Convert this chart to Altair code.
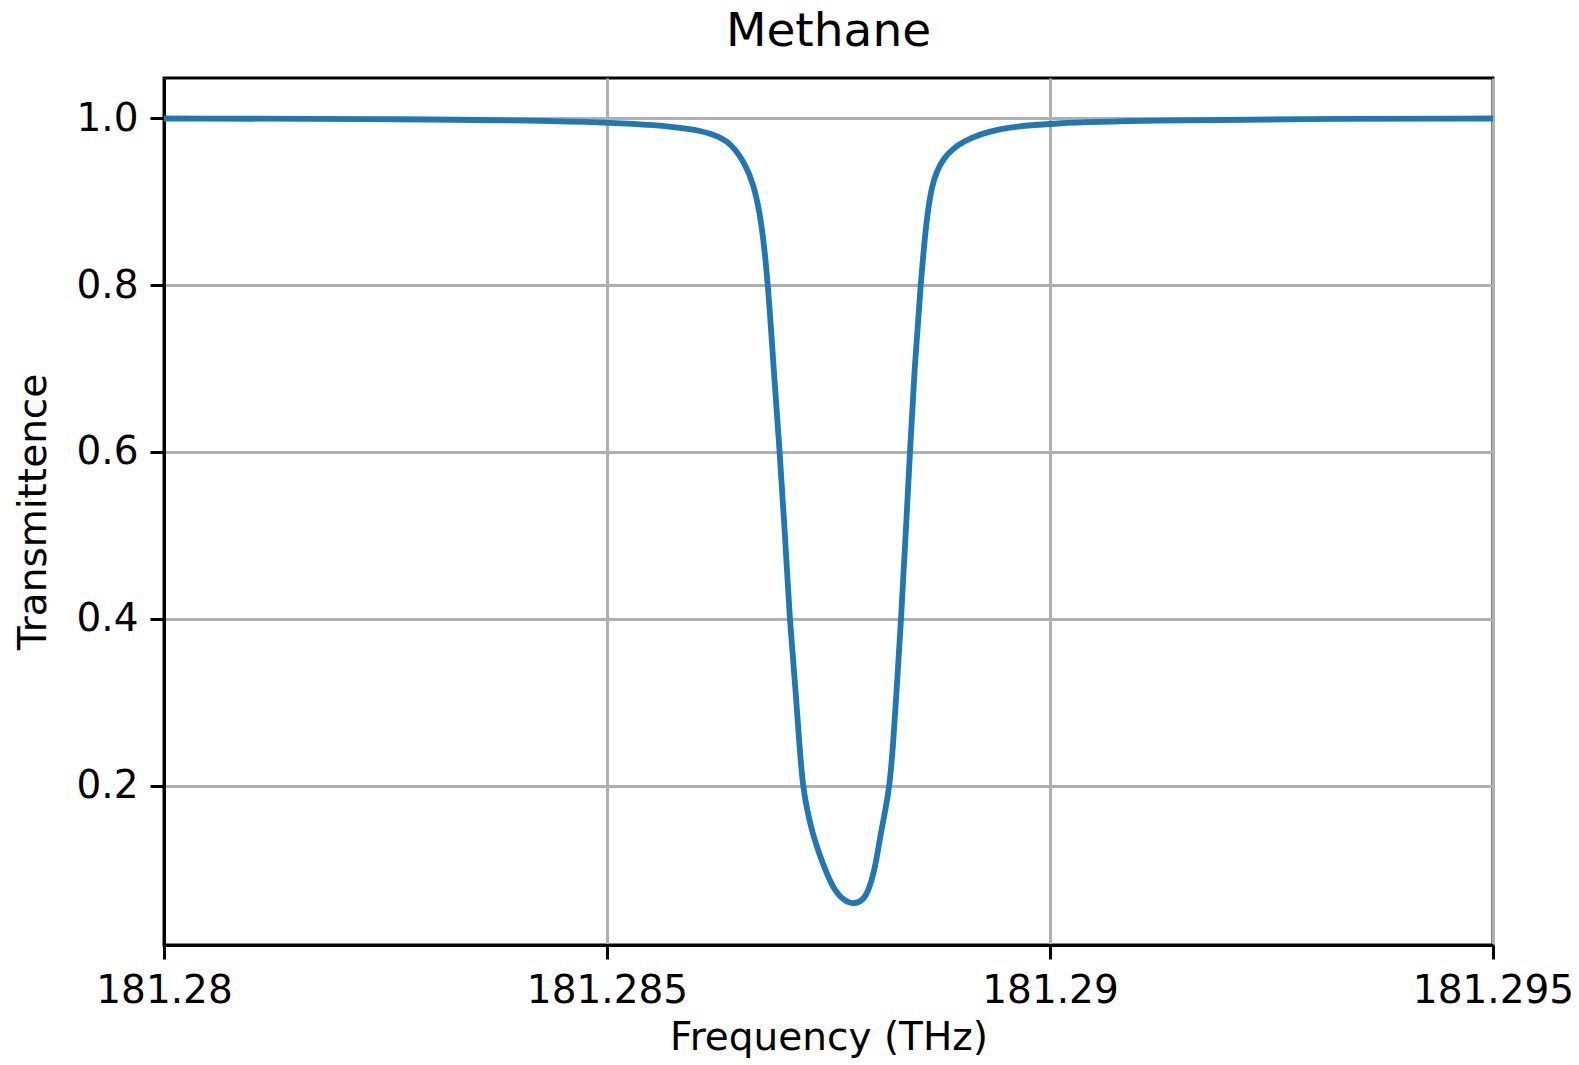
import altair as alt
import pandas as pd

# Values
frequency_thz = [
    181.28000, 181.28266, 181.28500, 181.28582, 181.28605, 181.28627,
    181.28642, 181.28656, 181.28665, 181.28674, 181.28682, 181.28688,
    181.28695, 181.28701, 181.28706, 181.28714, 181.28717, 181.28721,
    181.28726, 181.28732, 181.28740, 181.28748, 181.28757, 181.28768,
    181.28779, 181.28789, 181.28795, 181.28801, 181.28805, 181.28809,
    181.28814, 181.28819, 181.28823, 181.28826, 181.28832, 181.28837,
    181.28842, 181.28847, 181.28854, 181.28859, 181.28866, 181.28879,
    181.28901, 181.28940, 181.29000, 181.29112, 181.29282, 181.29500,
]
transmittance = [
    0.9995, 0.999, 0.996, 0.989, 0.985, 0.978,
    0.967, 0.945, 0.922, 0.881, 0.800, 0.700,
    0.600, 0.500, 0.400, 0.300, 0.250, 0.200,
    0.170, 0.143, 0.117, 0.095, 0.074, 0.062,
    0.058, 0.063, 0.074, 0.095, 0.117, 0.143,
    0.170, 0.200, 0.250, 0.300, 0.400, 0.500,
    0.600, 0.700, 0.800, 0.862, 0.922, 0.953,
    0.973, 0.988, 0.994, 0.997, 0.999, 0.9995,
]
x_ticks = [181.28, 181.285, 181.29, 181.295]
y_ticks = [0.2, 0.4, 0.6, 0.8, 1.0]

df = pd.DataFrame({"f": frequency_thz, "t": transmittance})

FONT = "DejaVu Sans"

chart = alt.Chart(df, title=alt.Title(
    "Methane", fontSize=47, font=FONT, fontWeight="normal", color="#000",
    anchor="middle", offset=22)
).mark_line(color="#1f77b4", strokeWidth=5.8, interpolate="basis").encode(
    x=alt.X("f:Q", title="Frequency (THz)",
            scale=alt.Scale(domain=[181.28, 181.295], nice=False, zero=False),
            axis=alt.Axis(values=x_ticks, format=".3~f", grid=True)),
    y=alt.Y("t:Q", title="Transmittence",
            scale=alt.Scale(domain=[0.0093, 1.048], nice=False, zero=False),
            axis=alt.Axis(values=y_ticks, format=".1f", grid=True)),
).properties(
    width=1329, height=867,
    background="white",
    padding={"left": 164, "top": 78, "right": 86, "bottom": 120},
    autosize=alt.AutoSizeParams(type="none"),
).configure_view(
    stroke="#000", strokeWidth=3
).configure_axis(
    labelFont=FONT, titleFont=FONT, labelFontSize=39, titleFontSize=39,
    labelColor="#000", titleColor="#000", titleFontWeight="normal",
    tickColor="#000", tickWidth=3, tickSize=14, labelPadding=12,
    domainColor="#000", domainWidth=3,
    gridColor="#b0b0b0", gridWidth=3,
).configure_axisX(
    titlePadding=8, labelFlush=False,
).configure_axisY(
    titlePadding=22,
)

chart.save("out.html", embed_options={"renderer": "svg", "actions": False})
